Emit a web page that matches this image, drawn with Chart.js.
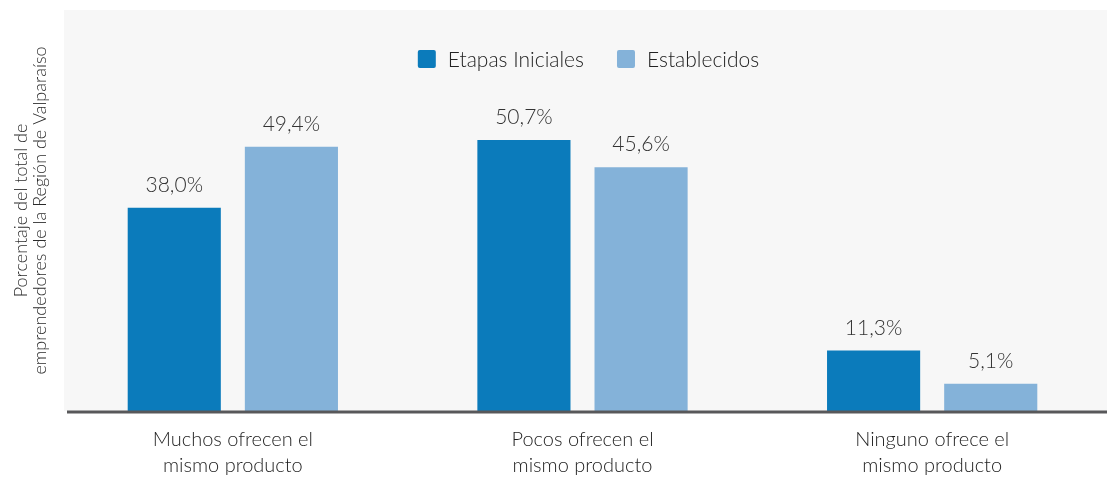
<!DOCTYPE html>
<html>
<head>
<meta charset="utf-8">
<script src="https://cdn.jsdelivr.net/npm/chart.js@4.4.1/dist/chart.umd.min.js"></script>
<style>
  html, body { margin: 0; padding: 0; background: #fff; }
</style>
</head>
<body>
<canvas id="chart" width="1107" height="480"></canvas>
<script>
// categories and series
categories = [
  ['Muchos ofrecen el', 'mismo producto'],
  ['Pocos ofrecen el', 'mismo producto'],
  ['Ninguno ofrece el', 'mismo producto']
]
seriesNames = ['Etapas Iniciales', 'Establecidos']
etapasIniciales = [38.0, 50.7, 11.3]
establecidos = [49.4, 45.6, 5.1]
yTitle = ['Porcentaje del total de', 'emprendedores de la Región de Valparaíso']

darkBlue = '#0b7bbb'
lightBlue = '#84b2d9'
fontFam = 'Lato, "Open Sans", sans-serif'

// gray panel + thick base line
var panel = {
  id: 'panel',
  beforeDraw: function(chart) {
    var ctx = chart.ctx, a = chart.chartArea;
    ctx.save();
    ctx.fillStyle = '#f7f7f7';
    ctx.fillRect(a.left + 6, 10, chart.width - a.left - 6, a.bottom - 10);
    ctx.restore();
  },
  afterDatasetsDraw: function(chart) {
    var ctx = chart.ctx, a = chart.chartArea;
    ctx.save();
    ctx.strokeStyle = '#58585a';
    ctx.lineWidth = 3;
    ctx.beginPath();
    ctx.moveTo(a.left + 9, a.bottom + 1);
    ctx.lineTo(chart.width, a.bottom + 1);
    ctx.stroke();
    ctx.restore();
  }
};

// value labels above each bar
var valueLabels = {
  id: 'valueLabels',
  afterDatasetsDraw: function(chart) {
    var ctx = chart.ctx;
    ctx.save();
    ctx.font = '300 21px ' + fontFam;
    ctx.fillStyle = '#333';
    ctx.textAlign = 'center';
    ctx.textBaseline = 'alphabetic';
    chart.data.datasets.forEach(function(ds, i) {
      chart.getDatasetMeta(i).data.forEach(function(bar, j) {
        var txt = ds.data[j].toFixed(1).replace('.', ',') + '%';
        ctx.fillText(txt, bar.x, bar.y - 16);
      });
    });
    ctx.restore();
  }
};

// legend drawn inside the panel
var innerLegend = {
  id: 'innerLegend',
  afterDraw: function(chart) {
    var ctx = chart.ctx;
    ctx.save();
    ctx.font = '300 21px ' + fontFam;
    ctx.textBaseline = 'middle';
    var box = 18, gap = 12, spacing = 33;
    var widths = chart.data.datasets.map(function(ds) { return box + gap + ctx.measureText(ds.label).width; });
    var total = widths[0] + widths[1] + spacing;
    var x = chart.chartArea.left + (chart.chartArea.right - chart.chartArea.left) / 2 - total / 2 + 6;
    var y = 59;
    chart.data.datasets.forEach(function(ds, i) {
      ctx.fillStyle = ds.backgroundColor;
      ctx.beginPath();
      ctx.roundRect(x, y - box / 2, box, box, 2);
      ctx.fill();
      ctx.fillStyle = '#222';
      ctx.fillText(ds.label, x + box + gap, y + 1);
      x += widths[i] + spacing;
    });
    ctx.restore();
  }
};

var chartdata = {
  labels: categories,
  datasets: [
    { label: seriesNames[0], data: etapasIniciales, backgroundColor: darkBlue },
    { label: seriesNames[1], data: establecidos, backgroundColor: lightBlue }
  ]
};

var config = {
  type: 'bar',
  data: chartdata,
  options: {
    responsive: false,
    animation: false,
    layout: { padding: { top: 10, right: 0, left: 0, bottom: 0 } },
    datasets: { bar: { categoryPercentage: 0.67, barPercentage: 0.795 } },
    plugins: { legend: { display: false }, tooltip: { enabled: false } },
    scales: {
      x: {
        grid: { display: false, drawTicks: false },
        border: { display: false },
        ticks: { color: '#1e1e1e', font: { family: fontFam, size: 20, weight: '300', lineHeight: 1.3 }, padding: 16, maxRotation: 0, minRotation: 0 },
        afterFit: function(s) { s.height = 69; }
      },
      y: {
        min: 0, max: 75,
        grid: { display: false, drawTicks: false },
        border: { display: false },
        ticks: { display: false },
        title: { display: true, text: yTitle, color: '#2a2a2a', font: { family: fontFam, size: 18, weight: '300', lineHeight: 1.05 }, padding: { top: 12, bottom: 0 } },
        afterFit: function(s) { s.width = 58; }
      }
    }
  },
  plugins: [panel, valueLabels, innerLegend]
};

var myChart = new Chart(document.getElementById('chart'), config);
</script>
</body>
</html>
